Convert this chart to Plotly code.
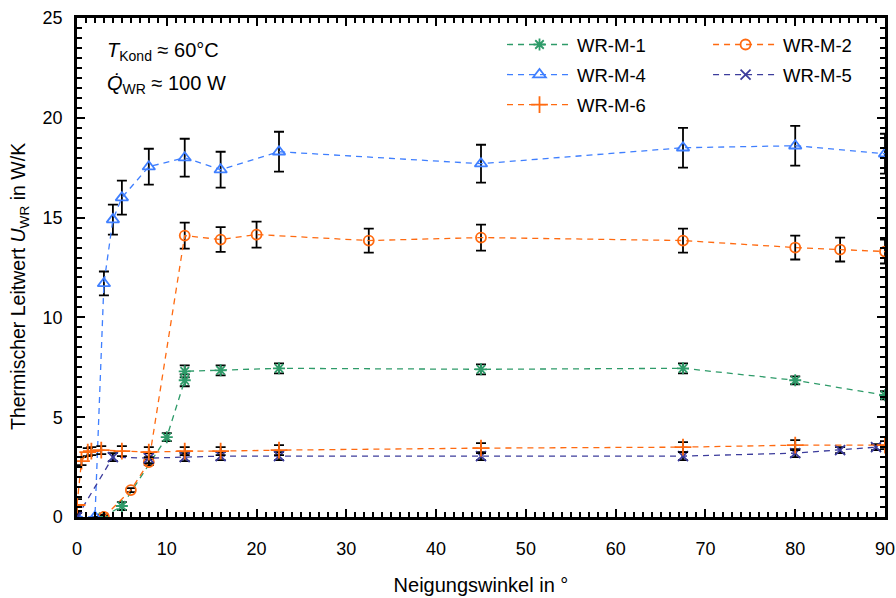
import plotly.graph_objects as go

# ---- data ----
m1_x = [2.9, 5, 10, 12, 12, 16, 22.5, 45, 67.5, 80, 90]
m1_y = [0.0, 0.55, 4.0, 6.85, 7.3, 7.35, 7.45, 7.4, 7.45, 6.85, 6.1]
m1_e = [0.1, 0.2, 0.2, 0.3, 0.3, 0.25, 0.25, 0.25, 0.25, 0.2, 0.2]

m2_x = [3, 6, 8, 12, 16, 20, 32.5, 45, 67.5, 80, 85, 90]
m2_y = [0.0, 1.35, 2.75, 14.1, 13.9, 14.15, 13.85, 14.0, 13.85, 13.5, 13.4, 13.3]
m2_e = [0.1, 0.1, 0.15, 0.65, 0.62, 0.65, 0.6, 0.65, 0.6, 0.6, 0.6, 0.6]

m4_x = [0, 2, 3, 4, 5, 8, 12, 16, 22.5, 45, 67.5, 80, 90]
m4_y = [0.0, 0.0, 11.7, 14.9, 16.0, 17.55, 18.0, 17.4, 18.3, 17.7, 18.5, 18.6, 18.2]
m4_e = [0.0, 0.0, 0.6, 0.75, 0.85, 0.9, 0.95, 0.9, 1.0, 0.95, 1.0, 1.0, 1.0]

m5_x = [0, 4, 8, 12, 16, 22.5, 45, 67.5, 80, 85, 89]
m5_y = [0.0, 3.0, 2.95, 3.0, 3.05, 3.05, 3.05, 3.05, 3.2, 3.35, 3.5]
m5_e = [0.2, 0.2, 0.25, 0.2, 0.2, 0.2, 0.2, 0.2, 0.2, 0.15, 0.15]

m6_x = [0, 0.5, 1.2, 1.6, 2.7, 5, 8, 12, 16, 22.5, 45, 67.5, 80, 90]
m6_y = [0.6, 2.8, 3.25, 3.3, 3.35, 3.3, 3.25, 3.3, 3.3, 3.35, 3.45, 3.5, 3.6, 3.6]
m6_e = [0.3, 0.2, 0.2, 0.2, 0.2, 0.25, 0.25, 0.2, 0.2, 0.25, 0.25, 0.25, 0.25, 0.2]

names = ["WR-M-1", "WR-M-2", "WR-M-4", "WR-M-5", "WR-M-6"]
colors = ["#2E9B69", "#FF6A10", "#3F7FFF", "#3C3C9C", "#FF6A10"]
symbols = ["asterisk-open", "circle-open", "triangle-up-open", "x-thin-open", "cross-thin-open"]
sizes = [10, 10, 11, 10, 12]
legend_ids = ["legend", "legend2", "legend", "legend2", "legend"]
series = [(m1_x, m1_y, m1_e), (m2_x, m2_y, m2_e), (m4_x, m4_y, m4_e),
          (m5_x, m5_y, m5_e), (m6_x, m6_y, m6_e)]

x_title = "Neigungswinkel in °"
y_title = "Thermischer Leitwert <i>U</i><sub>WR</sub> in W/K"

FONT = "Liberation Sans, Arial, sans-serif"

fig = go.Figure()
for (x, y, e), n, c, s, sz, lg in zip(series, names, colors, symbols, sizes, legend_ids):
    fig.add_trace(go.Scatter(
        x=x, y=y, name=n, mode="lines+markers", legend=lg, legendgroup=n,
        line=dict(color=c, width=1.3, dash="6px,5px"),
        marker=dict(symbol=s, size=sz, color=c, line=dict(color=c, width=1.8)),
        error_y=dict(type="data", array=e, visible=True, color="black",
                     thickness=1.8, width=5),
    ))

axis_common = dict(
    showline=True, linecolor="black", linewidth=2.5, mirror="ticks",
    ticks="inside", ticklen=8, tickwidth=2, tickcolor="black",
    showgrid=False, zeroline=False, automargin=False,
    tickfont=dict(family=FONT, size=18, color="black"),
)

fig.update_xaxes(range=[0, 90], dtick=10, tick0=0, ticklabelstandoff=14,
                 minor=dict(dtick=1, ticks="inside", ticklen=5, tickwidth=1.5, tickcolor="black"),
                 title=dict(text=x_title, font=dict(family=FONT, size=20, color="black"), standoff=20),
                 **axis_common)
fig.update_yaxes(range=[0, 25], dtick=5, tick0=0, ticklabelstandoff=8,
                 minor=dict(dtick=0.5, ticks="inside", ticklen=5, tickwidth=1.5, tickcolor="black"),
                 **axis_common)

# y-axis title (placed as rotated text, centred slightly below the plot middle as in the reference)
fig.add_annotation(x=-0.0705, y=0.461, xref="paper", yref="paper", xanchor="center", yanchor="middle",
                   text=y_title, textangle=-90, showarrow=False,
                   font=dict(family=FONT, size=19.5, color="black"))

fig.add_annotation(x=0.035, y=0.932, xref="paper", yref="paper", xanchor="left", yanchor="middle",
                   text="<i>T</i><sub>Kond</sub> ≈ 60°C", showarrow=False,
                   font=dict(family=FONT, size=20, color="black"))
fig.add_annotation(x=0.035, y=0.866, xref="paper", yref="paper", xanchor="left", yanchor="middle",
                   text="<i>Q̇</i><sub>WR</sub> ≈ 100 W", showarrow=False,
                   font=dict(family=FONT, size=20, color="black"))

leg_common = dict(orientation="v", yanchor="top", xanchor="left", y=0.984,
                  bgcolor="rgba(0,0,0,0)", font=dict(family=FONT, size=18.5, color="black"),
                  itemwidth=65, tracegroupgap=3)

fig.update_layout(
    width=896, height=598,
    margin=dict(l=77, r=11, t=18, b=81),
    paper_bgcolor="white", plot_bgcolor="white",
    font=dict(family=FONT, size=18, color="black"),
    legend=dict(x=0.526, **leg_common),
    legend2=dict(x=0.781, **leg_common),
    showlegend=True,
)

fig.write_html("out.html")
